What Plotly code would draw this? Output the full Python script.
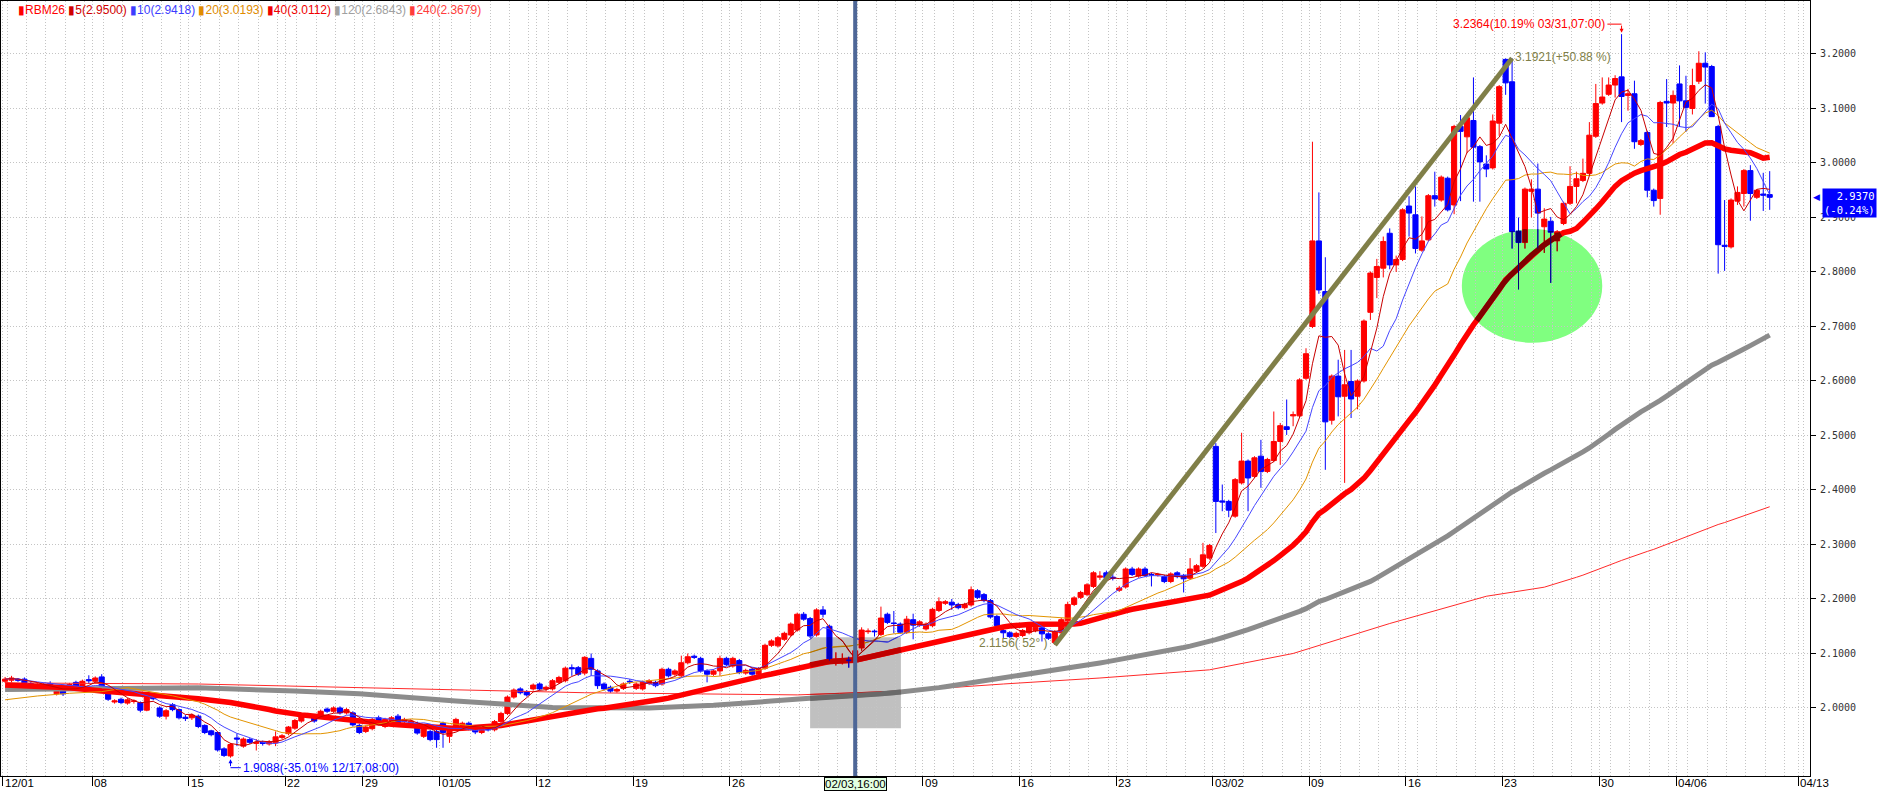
import numpy as np
import pandas as pd
import plotly.graph_objects as go

# ---------------- data (8-hour bars, RBM26) ----------------
opens = [
2.049,2.051,2.053,2.053,2.045,2.040,2.043,2.045,2.026,2.040,
2.037,2.047,2.040,2.052,2.049,2.057,2.030,2.011,2.016,2.009,
2.012,2.010,1.996,2.021,2.000,1.985,2.006,1.997,1.983,1.982,
1.985,1.968,1.958,1.955,1.925,1.912,1.945,1.930,1.942,1.935,
1.937,1.934,1.936,1.946,1.953,1.963,1.976,1.985,1.985,1.985,
1.998,1.994,2.000,1.991,1.991,1.968,1.957,1.962,1.982,1.966,
1.972,1.985,1.975,1.972,1.972,1.948,1.957,1.957,1.972,1.948,
1.966,1.966,1.972,1.962,1.955,1.966,1.960,1.975,1.990,2.020,
2.035,2.030,2.035,2.044,2.035,2.035,2.047,2.050,2.074,2.074,
2.064,2.091,2.068,2.044,2.038,2.031,2.036,2.049,2.036,2.035,
2.045,2.047,2.044,2.071,2.062,2.059,2.083,2.095,2.091,2.068,
2.062,2.068,2.091,2.077,2.087,2.064,2.071,2.062,2.073,2.115,
2.114,2.126,2.134,2.143,2.172,2.164,2.134,2.180,2.150,2.087,
2.087,2.089,2.086,2.110,2.140,2.141,2.135,2.172,2.156,2.154,
2.139,2.162,2.152,2.145,2.151,2.179,2.192,2.194,2.190,2.184,
2.189,2.215,2.208,2.197,2.168,2.142,2.138,2.131,2.133,2.138,
2.142,2.147,2.136,2.120,2.138,2.160,2.190,2.203,2.208,2.223,
2.240,2.248,2.240,2.216,2.222,2.255,2.242,2.255,2.245,2.244,
2.241,2.232,2.248,2.243,2.238,2.251,2.260,2.275,2.480,2.380,
2.379,2.352,2.413,2.453,2.425,2.462,2.434,2.454,2.489,2.516,
2.536,2.536,2.605,2.700,2.857,2.764,2.528,2.609,2.572,2.599,
2.572,2.600,2.726,2.790,2.807,2.871,2.813,2.823,2.921,2.905,
2.840,2.859,2.940,2.932,2.972,2.923,3.067,3.048,3.078,3.030,
2.998,2.991,3.073,3.190,3.149,2.875,2.854,2.948,2.952,2.883,
2.893,2.857,2.889,2.926,2.957,2.968,2.981,3.049,3.110,3.126,
3.143,3.158,3.124,3.127,3.034,3.056,2.950,2.935,3.113,3.110,
3.145,3.114,3.100,3.150,3.183,3.177,3.067,2.849,2.846,2.930,
2.944,2.986,2.937,2.943,2.942]

highs = [
2.057,2.059,2.055,2.056,2.048,2.047,2.046,2.049,2.036,2.043,
2.046,2.050,2.052,2.060,2.058,2.062,2.032,2.016,2.019,2.018,
2.016,2.012,2.023,2.024,2.003,1.998,2.009,1.999,1.987,1.990,
1.988,1.970,1.960,1.957,1.928,1.936,1.953,1.946,1.945,1.943,
1.940,1.941,1.957,1.952,1.967,1.980,1.988,1.991,1.988,1.997,
2.001,2.003,2.003,2.000,1.994,1.971,1.968,1.982,1.986,1.982,
1.985,1.989,1.982,1.979,1.975,1.969,1.960,1.960,1.975,1.963,
1.982,1.975,1.975,1.965,1.968,1.969,1.978,1.993,2.023,2.036,
2.038,2.033,2.045,2.047,2.041,2.053,2.059,2.076,2.080,2.077,
2.095,2.100,2.071,2.047,2.041,2.037,2.047,2.053,2.047,2.050,
2.053,2.050,2.074,2.074,2.071,2.096,2.100,2.098,2.094,2.071,
2.071,2.096,2.094,2.094,2.090,2.072,2.074,2.075,2.118,2.126,
2.132,2.140,2.157,2.175,2.176,2.167,2.183,2.187,2.153,2.102,
2.100,2.094,2.108,2.148,2.146,2.144,2.186,2.175,2.178,2.157,
2.169,2.173,2.161,2.157,2.184,2.203,2.198,2.200,2.193,2.193,
2.223,2.218,2.211,2.200,2.171,2.150,2.141,2.140,2.145,2.153,
2.151,2.150,2.139,2.143,2.165,2.195,2.205,2.215,2.229,2.251,
2.251,2.252,2.246,2.224,2.258,2.259,2.258,2.259,2.248,2.248,
2.244,2.249,2.251,2.246,2.275,2.264,2.303,2.301,2.486,2.410,
2.382,2.422,2.505,2.456,2.462,2.492,2.459,2.544,2.523,2.566,
2.544,2.605,2.660,3.039,2.946,2.827,2.612,2.639,2.657,2.657,
2.603,2.713,2.801,2.824,2.865,2.880,2.830,2.917,2.939,2.957,
2.902,2.943,2.984,2.977,2.975,3.070,3.088,3.086,3.157,3.033,
3.014,3.089,3.143,3.192,3.1921,2.900,2.955,2.970,2.999,2.917,
2.901,2.877,2.929,2.994,2.984,3.008,3.075,3.145,3.157,3.157,
3.161,3.2364,3.136,3.151,3.044,3.059,2.953,3.114,3.154,3.133,
3.179,3.160,3.173,3.205,3.203,3.180,3.070,2.932,2.935,2.957,
2.989,2.996,2.952,2.982,2.985]

lows = [
2.046,2.047,2.048,2.041,2.036,2.037,2.034,2.033,2.023,2.022,
2.034,2.036,2.038,2.044,2.046,2.037,2.013,2.008,2.007,2.006,
2.008,1.992,1.994,2.014,1.982,1.979,1.994,1.979,1.976,1.978,
1.963,1.952,1.948,1.920,1.910,1.9088,1.930,1.927,1.934,1.922,
1.931,1.931,1.930,1.943,1.950,1.960,1.973,1.982,1.973,1.982,
1.991,1.991,1.988,1.988,1.966,1.952,1.954,1.959,1.973,1.963,
1.969,1.969,1.972,1.969,1.951,1.945,1.939,1.927,1.927,1.936,
1.963,1.963,1.959,1.952,1.952,1.957,1.957,1.972,1.987,2.017,
2.025,2.021,2.032,2.032,2.031,2.032,2.044,2.047,2.059,2.059,
2.060,2.059,2.035,2.032,2.028,2.028,2.033,2.044,2.033,2.032,
2.042,2.038,2.041,2.056,2.059,2.056,2.080,2.090,2.065,2.047,
2.059,2.059,2.077,2.074,2.062,2.061,2.059,2.059,2.070,2.112,
2.111,2.123,2.131,2.140,2.160,2.129,2.131,2.166,2.087,2.078,
2.080,2.074,2.083,2.105,2.136,2.131,2.132,2.154,2.137,2.136,
2.136,2.126,2.149,2.142,2.148,2.176,2.189,2.180,2.181,2.181,
2.186,2.200,2.194,2.164,2.148,2.128,2.128,2.128,2.130,2.135,
2.139,2.122,2.125,2.1156,2.135,2.157,2.187,2.200,2.205,2.220,
2.235,2.236,2.234,2.213,2.219,2.242,2.239,2.240,2.223,2.241,
2.229,2.229,2.238,2.212,2.235,2.248,2.257,2.272,2.321,2.361,
2.350,2.349,2.410,2.361,2.422,2.404,2.431,2.451,2.446,2.501,
2.517,2.533,2.602,2.697,2.760,2.437,2.520,2.535,2.413,2.532,
2.548,2.597,2.712,2.752,2.790,2.805,2.800,2.820,2.865,2.834,
2.837,2.856,2.920,2.929,2.911,2.906,2.930,3.018,2.929,2.929,
2.974,2.988,3.050,3.125,2.843,2.768,2.843,2.900,2.843,2.835,
2.780,2.838,2.886,2.923,2.926,2.965,2.978,3.046,3.107,3.123,
3.120,3.075,3.096,3.026,3.031,2.937,2.920,2.905,3.066,3.036,
3.066,3.057,3.089,3.145,3.109,3.085,2.797,2.802,2.843,2.923,
2.920,2.894,2.934,2.912,2.914]

closes = [
2.053,2.055,2.051,2.045,2.040,2.043,2.038,2.037,2.031,2.026,
2.043,2.039,2.049,2.050,2.055,2.040,2.016,2.013,2.010,2.015,
2.013,1.996,2.020,2.017,1.985,1.995,1.997,1.982,1.981,1.987,
1.966,1.955,1.951,1.923,1.913,1.933,1.943,1.943,1.937,1.937,
1.935,1.938,1.947,1.949,1.965,1.977,1.985,1.988,1.976,1.994,
1.994,2.000,1.991,1.997,1.969,1.955,1.965,1.979,1.976,1.979,
1.982,1.972,1.979,1.976,1.954,1.966,1.942,1.942,1.955,1.960,
1.979,1.972,1.962,1.956,1.965,1.960,1.975,1.990,2.020,2.033,
2.028,2.024,2.042,2.035,2.038,2.050,2.056,2.073,2.072,2.062,
2.093,2.071,2.041,2.035,2.031,2.034,2.044,2.048,2.044,2.047,
2.050,2.041,2.071,2.059,2.068,2.083,2.094,2.093,2.068,2.062,
2.068,2.091,2.080,2.091,2.065,2.069,2.062,2.072,2.115,2.123,
2.129,2.137,2.154,2.172,2.163,2.132,2.180,2.172,2.090,2.088,
2.089,2.086,2.105,2.143,2.141,2.140,2.165,2.157,2.155,2.139,
2.163,2.152,2.158,2.154,2.181,2.195,2.195,2.189,2.184,2.190,
2.217,2.203,2.197,2.167,2.151,2.138,2.131,2.137,2.142,2.150,
2.148,2.136,2.128,2.140,2.162,2.190,2.202,2.212,2.226,2.248,
2.242,2.239,2.238,2.220,2.255,2.245,2.255,2.243,2.244,2.245,
2.232,2.246,2.241,2.237,2.255,2.261,2.281,2.298,2.379,2.378,
2.363,2.419,2.453,2.422,2.459,2.434,2.456,2.489,2.518,2.511,
2.538,2.602,2.650,2.857,2.767,2.525,2.609,2.571,2.593,2.567,
2.600,2.710,2.798,2.810,2.856,2.813,2.823,2.914,2.908,2.843,
2.857,2.940,2.934,2.974,2.914,3.067,3.058,3.083,3.029,3.002,
2.989,3.077,3.140,3.147,2.874,2.854,2.952,2.952,2.908,2.897,
2.873,2.874,2.926,2.957,2.971,2.981,3.051,3.109,3.121,3.143,
3.155,3.122,3.127,3.039,3.041,2.950,2.931,3.111,3.110,3.124,
3.114,3.102,3.142,3.183,3.176,3.085,2.850,2.847,2.932,2.946,
2.986,2.944,2.950,2.941,2.937]

N = len(closes)
assert len(opens) == N and len(highs) == N and len(lows) == N, (len(opens), len(highs), len(lows), N)
bars = list(range(N))

ma20_early_x = [0, 5, 10, 15]
ma20_early_y = [2.015, 2.022, 2.027, 2.030]
ma40_early_x = [0, 5, 10, 15, 20, 25, 30, 35]
ma40_early_y = [2.042, 2.040, 2.037, 2.031, 2.026, 2.023, 2.017, 2.010]
ma120_early_x = [0, 15, 30, 45, 55, 70, 85, 100, 110]
ma120_early_y = [2.034, 2.036, 2.037, 2.031, 2.026, 2.013, 2.001, 2.000, 2.005]
ma240_early_x = [0, 30, 60, 90, 123, 139, 155, 170, 187, 200, 215, 230]
ma240_early_y = [2.046, 2.044, 2.036, 2.028, 2.024, 2.031, 2.044, 2.055, 2.070, 2.100, 2.155, 2.205]

legend_items = ["RBM26", "5(2.9500)", "10(2.9418)", "20(3.0193)", "40(3.0112)", "120(2.6843)", "240(2.3679)"]
legend_colors = ["#FF0000", "#D00000", "#3C3CFF", "#E08C00", "#F00000", "#A0A0A0", "#FF3C3C"]

# x axis: week start positions (bar index, left edge of the first bar) and labels
week_pos = [-0.33, 13.5, 28.5, 43.5, 55.5, 67.5, 82.5, 97.5, 112.5, 142.5, 157.5, 172.5,
            187.5, 202.5, 217.5, 232.5, 247.5, 259.5, 278.4]
week_lab = ["12/01", "08", "15", "22", "29", "01/05", "12", "19", "26", "09", "16", "23",
            "03/02", "09", "16", "23", "30", "04/06", "04/13"]
cross_bar = 132
cross_label = "02/03,16:00"
y_ticks = [2.0, 2.1, 2.2, 2.3, 2.4, 2.5, 2.6, 2.7, 2.8, 2.9, 3.0, 3.1, 3.2]
last_change = "(-0.24%)"
hi_note = "(10.19% 03/31,07:00)"
lo_note = "(-35.01% 12/17,08:00)"
trend_start, trend_end = 163, 234
trend_note_end = "(+50.88 %)"
trend_note_start = "( 52° )"
box_x = [125.0, 139.1]
box_y = [1.963, 2.130]
ell_x = [226.2, 248.0]
ell_y = [2.670, 2.879]

# ---------------- colours ----------------
UP, DOWN = "#FF0000", "#0000FF"
BOX_COL, ELL_COL = "#C0C0C0", "#80FF80"
C240, C120, C40, C20, C10, C5 = "#FF2A2A", "#8C8C8C", "#FF0000", "#E39400", "#4646FF", "#C80000"
TREND_COL = "#807F48"

# ---------------- geometry of the frame ----------------
W, H = 1877, 793
ML, MR, MT, MB = 1, 67, 1, 17
XR = [-0.637, 280.26]
YR = [1.8752, 3.2972]
PW, PH = W - ML - MR, H - MT - MB
ppu = PH / (YR[1] - YR[0])   # pixels per price unit

s = pd.Series(closes)
def ma(n, ex=None, ey=None):
    if ex is None:
        return bars, s.rolling(n, min_periods=1).mean().tolist()
    full = s.rolling(n).mean().tolist()
    return list(ex) + bars[n - 1:], list(ey) + full[n - 1:]

x240, y240 = ma(240, ma240_early_x, ma240_early_y)
x120, y120 = ma(120, ma120_early_x, ma120_early_y)
x40, y40 = ma(40, ma40_early_x, ma40_early_y)
x20, y20 = ma(20, ma20_early_x, ma20_early_y)
x10, y10 = ma(10)
x5, y5 = ma(5)
ma_lines = [(x240, y240, C240, 1), (x120, y120, C120, 5), (x40, y40, C40, 5.5),
            (x20, y20, C20, 1), (x10, y10, C10, 1), (x5, y5, C5, 1)]

fig = go.Figure()
for xs, ys, col, wd in ma_lines:
    fig.add_trace(go.Scatter(x=xs, y=ys, mode="lines", line=dict(color=col, width=wd), hoverinfo="skip"))

# trend line from the swing low to the swing high
fig.add_trace(go.Scatter(x=[trend_start, trend_end], y=[lows[trend_start], highs[trend_end]],
                         mode="lines", line=dict(color=TREND_COL, width=5), hoverinfo="skip"))

fig.add_trace(go.Candlestick(
    x=bars, open=opens, high=highs, low=lows, close=closes,
    increasing=dict(line=dict(color=UP, width=1), fillcolor=UP),
    decreasing=dict(line=dict(color=DOWN, width=1), fillcolor=DOWN),
    whiskerwidth=0, hoverinfo="skip"))

# ---- "multiply" look of the highlight shapes: re-draw what lies inside them, darkened
def hex2rgb(h):
    h = h.lstrip("#")
    return [int(h[i:i + 2], 16) for i in (0, 2, 4)]

def mult(c, m):
    a, b = hex2rgb(c), hex2rgb(m)
    return "rgb({},{},{})".format(*[round(p * q / 255) for p, q in zip(a, b)])

def ext_box(x):
    if box_x[0] <= x <= box_x[1]:
        return box_y[0], box_y[1]
    return None

def ext_ell(x):
    cx, a = (ell_x[0] + ell_x[1]) / 2, (ell_x[1] - ell_x[0]) / 2
    cy, b = (ell_y[0] + ell_y[1]) / 2, (ell_y[1] - ell_y[0]) / 2
    u = (x - cx) / a
    if abs(u) >= 1:
        return None
    h = b * np.sqrt(1 - u * u)
    return cy - h, cy + h

def overlay(ext, x_lo, x_hi, tint):
    for xs, ys, col, wd in ma_lines:
        fx = np.arange(x_lo, x_hi + 1e-9, 0.05)
        fy = np.interp(fx, xs, ys)
        px, py = [], []
        prev_in = False
        for a, b in zip(fx, fy):
            e = ext(a)
            inside = e is not None and e[0] <= b <= e[1]
            if inside:
                px.append(a); py.append(b)
            elif prev_in:
                px.append(None); py.append(None)
            prev_in = inside
        if px:
            fig.add_trace(go.Scatter(x=px, y=py, mode="lines", line=dict(color=mult(col, tint), width=wd),
                                     hoverinfo="skip"))
    for col, sel in ((UP, True), (DOWN, False)):
        wx, wy, bx, by = [], [], [], []
        for i in bars:
            if not (x_lo <= i <= x_hi):
                continue
            if (closes[i] >= opens[i]) != sel:
                continue
            e = ext(i)
            if e is None:
                continue
            lo_, hi_ = e
            w0, w1 = max(lows[i], lo_), min(highs[i], hi_)
            if w0 < w1:
                wx += [i, i, None]; wy += [w0, w1, None]
            b0, b1 = max(min(opens[i], closes[i]), lo_), min(max(opens[i], closes[i]), hi_)
            if b0 <= b1:
                bx += [i, i, None]; by += [b0, max(b1, b0 + 0.5 / ppu), None]
        dark = mult(col, tint)
        if wx:
            fig.add_trace(go.Scatter(x=wx, y=wy, mode="lines", line=dict(color=dark, width=1), hoverinfo="skip"))
        if bx:
            fig.add_trace(go.Scatter(x=bx, y=by, mode="lines", line=dict(color=dark, width=5), hoverinfo="skip"))

overlay(ext_box, box_x[0], box_x[1], BOX_COL)
overlay(ext_ell, ell_x[0], ell_x[1], ELL_COL)

grid_col = "#C4C4C4"
fig.update_layout(
    width=W, height=H, margin=dict(l=ML, r=MR, t=MT, b=MB, autoexpand=False),
    paper_bgcolor="white", plot_bgcolor="white", showlegend=False,
    boxgap=0.1, boxgroupgap=0.12, hovermode=False,
)
fig.update_xaxes(
    range=XR, rangeslider_visible=False, showline=True, mirror=True, linecolor="black", linewidth=1,
    tickmode="array", tickvals=week_pos, ticks="outside", ticklen=9, tickcolor="black",
    showticklabels=False, showgrid=True, gridcolor=grid_col, griddash="1px,2px", zeroline=False,
    automargin=False,
    minor=dict(tick0=0.3, dtick=3, showgrid=True, gridcolor=grid_col, griddash="1px,2px", ticks=""),
)
fig.update_yaxes(
    range=YR, side="right", tickmode="array", tickvals=y_ticks, ticktext=[f"{v:.4f}" for v in y_ticks],
    ticks="outside", ticklen=5, tickcolor="black", showline=True, mirror=True, linecolor="black",
    showgrid=True, gridcolor=grid_col, griddash="1px,2px", zeroline=False, automargin=False,
    tickfont=dict(family="DejaVu Sans Mono", size=10, color="#333333"), ticklabelstandoff=2,
)

shapes = []
shapes.append(dict(type="rect", xref="x", yref="y", x0=box_x[0], x1=box_x[1], y0=box_y[0], y1=box_y[1],
                   fillcolor=BOX_COL, line=dict(width=0), layer="below"))
shapes.append(dict(type="circle", xref="x", yref="y", x0=ell_x[0], x1=ell_x[1], y0=ell_y[0], y1=ell_y[1],
                   fillcolor=ELL_COL, line=dict(width=0), layer="below"))
shapes.append(dict(type="line", xref="x", yref="paper", x0=cross_bar, x1=cross_bar, y0=0, y1=1,
                   line=dict(color="#4E6797", width=4), layer="above"))

ann = []
lab_font = dict(family="Liberation Sans", size=11.5, color="black")
for p, t in zip(week_pos, week_lab):
    ann.append(dict(x=p, y=0, xref="x", yref="paper", text=t, showarrow=False, xanchor="left",
                    yanchor="top", xshift=0, yshift=1, font=lab_font))
ann.append(dict(x=cross_bar, y=0, xref="x", yref="paper", text=cross_label, showarrow=False,
                xanchor="center", yanchor="top", yshift=-1, font=lab_font, bgcolor="#E2FFE2",
                bordercolor="black", borderwidth=1, borderpad=0))

# legend line
leg = " ".join(f"<span style='color:{c}'>▮{t}</span>" for t, c in zip(legend_items, legend_colors))
ann.append(dict(x=15 / PW, y=1 - 9 / PH, xref="paper", yref="paper", text=leg,
                showarrow=False, xanchor="left", yanchor="middle",
                font=dict(family="Liberation Sans", size=12)))

# last price box + marker
last = closes[-1]
ann.append(dict(x=(1822 - ML) / PW, y=last, xref="paper", yref="y",
                text=f"&nbsp;&nbsp;{last:.4f}<br>{last_change}", showarrow=False, xanchor="left",
                yanchor="top", yshift=9, align="left", bgcolor="#0000FF", borderpad=1,
                font=dict(family="DejaVu Sans Mono", size=10.5, color="white")))
ann.append(dict(x=(1811 - ML) / PW, y=last, xref="paper", yref="y", text="◀", showarrow=False,
                xanchor="left", yanchor="middle", font=dict(family="DejaVu Sans", size=9, color="#0000FF")))

ann_font = "Liberation Sans"
# highest high
hi = int(np.argmax(highs))
hy = highs[hi] + 10 / ppu
ann.append(dict(x=hi - 2.3, y=hy, xref="x", yref="y", text=f"{highs[hi]:.4f}{hi_note}", showarrow=False,
                xanchor="right", yanchor="middle", font=dict(family=ann_font, size=12, color="#FF0000")))
shapes.append(dict(type="line", xref="x", yref="y", x0=hi - 2.2, x1=hi, y0=hy, y1=hy,
                   line=dict(color="#FF0000", width=1)))
ann.append(dict(x=hi, y=highs[hi] + 1.5 / ppu, ax=hi, ay=hy, xref="x", yref="y", axref="x", ayref="y",
                text="", showarrow=True, arrowhead=2, arrowsize=0.8, arrowwidth=1, arrowcolor="#FF0000"))
# lowest low
lo = int(np.argmin(lows))
ly = lows[lo] - 10 / ppu
ann.append(dict(x=lo + 1.7, y=ly, xref="x", yref="y", text=f"{lows[lo]:.4f}{lo_note}", showarrow=False,
                xanchor="left", yanchor="middle", font=dict(family=ann_font, size=12, color="#0000FF")))
shapes.append(dict(type="line", xref="x", yref="y", x0=lo, x1=lo + 1.6, y0=ly, y1=ly,
                   line=dict(color="#0000FF", width=1)))
ann.append(dict(x=lo, y=lows[lo] - 1.5 / ppu, ax=lo, ay=ly, xref="x", yref="y", axref="x", ayref="y",
                text="", showarrow=True, arrowhead=2, arrowsize=0.8, arrowwidth=1, arrowcolor="#0000FF"))
# trend line labels
ann.append(dict(x=trend_end + 0.2, y=highs[trend_end], xref="x", yref="y",
                text=f"{highs[trend_end]:.4f}{trend_note_end}", showarrow=False, xanchor="left",
                yanchor="middle", yshift=1, font=dict(family=ann_font, size=12, color=TREND_COL)))
ann.append(dict(x=trend_start - 0.7, y=lows[trend_start], xref="x", yref="y",
                text=f"{lows[trend_start]:.4f}{trend_note_start}", showarrow=False, xanchor="right",
                yanchor="middle", yshift=2, font=dict(family=ann_font, size=12, color=TREND_COL)))

fig.update_layout(shapes=shapes, annotations=ann)
# remove the browser's default page margin so the figure sits at the window's top-left corner
fig.write_html("out.html", config={"displayModeBar": False},
               post_script="document.body.style.margin='0';document.body.style.overflow='hidden';")
